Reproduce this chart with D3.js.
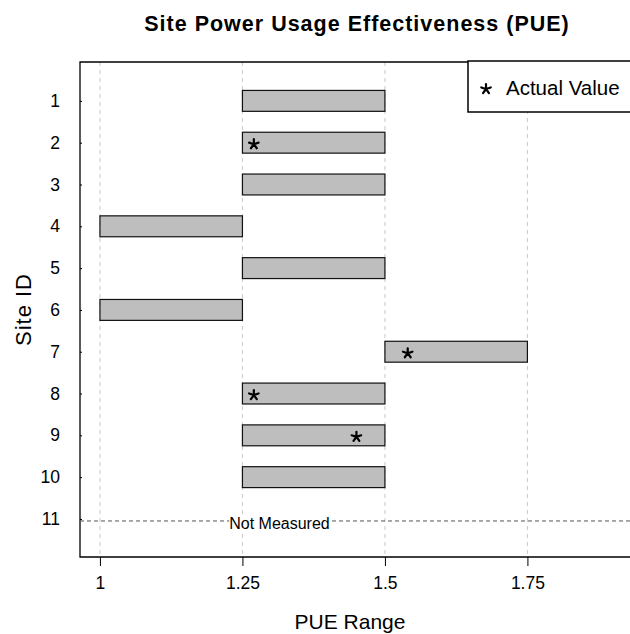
<!DOCTYPE html>
<html>
<head>
<meta charset="utf-8">
<script src="https://cdn.jsdelivr.net/npm/d3@7"></script>
<style>
  body { margin: 0; background: #fff; }
  svg { font-family: "Liberation Sans", Arial, Helvetica, sans-serif; }
</style>
</head>
<body>
<div id="chart"></div>
<script>
// data
let siteIds = [1, 2, 3, 4, 5, 6, 7, 8, 9, 10, 11];
let rangeLow  = [1.25, 1.25, 1.25, 1.0, 1.25, 1.0, 1.5, 1.25, 1.25, 1.25, null];
let rangeHigh = [1.5, 1.5, 1.5, 1.25, 1.5, 1.25, 1.75, 1.5, 1.5, 1.5, null];
let actualValue = [null, 1.27, null, null, null, null, 1.54, 1.27, 1.45, null, null];
let xTicks = [1, 1.25, 1.5, 1.75];
let notMeasuredSite = 11;

let svgWidth = 630;
let svgHeight = 634;
let plot = { left: 80, top: 62, right: 700, bottom: 557 };

let svg = d3.select('#chart')
  .append('svg')
  .attr('width', svgWidth)
  .attr('height', svgHeight);

// scales (the plot runs off the right edge of the picture)
let x = d3.scaleLinear()
  .domain([0.965, 1.93])
  .range([plot.left, 630]);
let y = d3.scaleLinear()
  .domain([0.07, 11.91])
  .range([plot.top, plot.bottom]);

let band = y(1.25) - y(1);

// dashed grid
svg.append('g')
  .selectAll('line')
  .data(xTicks)
  .enter()
  .append('line')
  .attr('x1', d => x(d)).attr('x2', d => x(d))
  .attr('y1', plot.top).attr('y2', plot.bottom)
  .attr('stroke', '#c8c8c8')
  .attr('stroke-dasharray', '4,4');

// axes
let bottomAxis = d3.axisBottom(x)
  .tickValues(xTicks)
  .tickFormat(d => d3.format('')(d))
  .tickSize(9)
  .tickPadding(11);
let gx = svg.append('g')
  .attr('transform', `translate(0,${plot.bottom})`)
  .call(bottomAxis);

let leftAxis = d3.axisLeft(y)
  .tickValues(siteIds)
  .tickSize(-2)
  .tickPadding(20);
let gy = svg.append('g')
  .attr('transform', `translate(${plot.left},0)`)
  .call(leftAxis);

[gx, gy].forEach(g => {
  g.select('.domain').remove();
  g.selectAll('text').attr('font-size', 17.5).attr('fill', '#000').attr('font-family', null);
  g.selectAll('line').attr('stroke', '#000');
});

// plot frame (open on the right, cropped)
svg.append('path')
  .attr('d', `M${plot.right},${plot.top}H${plot.left}V${plot.bottom}H${plot.right}`)
  .attr('fill', 'none')
  .attr('stroke', '#000')
  .attr('stroke-width', 1.3);

// range bars
let rows = siteIds.map((s, i) => ({ site: s, lo: rangeLow[i], hi: rangeHigh[i], val: actualValue[i] }));

svg.append('g')
  .selectAll('rect')
  .data(rows.filter(d => d.lo !== null))
  .enter()
  .append('rect')
  .attr('x', d => x(d.lo))
  .attr('y', d => y(d.site) - band)
  .attr('width', d => x(d.hi) - x(d.lo))
  .attr('height', 2 * band)
  .attr('fill', '#bebebe')
  .attr('stroke', '#111')
  .attr('stroke-width', 1.2);

// five-armed asterisk
function starPath(r) {
  let p = '';
  for (let k = 0; k < 5; k++) {
    let a = -Math.PI / 2 + k * 2 * Math.PI / 5;
    p += `M0,0L${r * Math.cos(a)},${r * Math.sin(a)}`;
  }
  return p;
}

svg.append('g')
  .selectAll('path')
  .data(rows.filter(d => d.val !== null))
  .enter()
  .append('path')
  .attr('transform', d => `translate(${x(d.val)},${y(d.site) + 1.5})`)
  .attr('d', starPath(5))
  .attr('stroke', '#000')
  .attr('stroke-width', 2.2)
  .attr('stroke-linecap', 'round');

// not measured line
let yNm = y(notMeasuredSite) + 2;
svg.append('line')
  .attr('x1', plot.left).attr('x2', plot.right)
  .attr('y1', yNm).attr('y2', yNm)
  .attr('stroke', '#555')
  .attr('stroke-dasharray', '4,3');

let nmGroup = svg.append('g');
let nmBg = nmGroup.append('rect').attr('fill', '#fff');
let nmText = nmGroup.append('text')
  .attr('x', x(1.315))
  .attr('y', yNm + 8)
  .attr('text-anchor', 'middle')
  .attr('font-size', 16)
  .text('Not Measured');
let bb = nmText.node().getBBox();
nmBg.attr('x', bb.x).attr('y', bb.y + 3)
  .attr('width', bb.width).attr('height', bb.height - 5);

// legend
let legend = svg.append('g');
legend.append('rect')
  .attr('x', 468).attr('y', 61)
  .attr('width', 200).attr('height', 51)
  .attr('fill', '#fff')
  .attr('stroke', '#000')
  .attr('stroke-width', 1.5);
legend.append('path')
  .attr('transform', 'translate(486,89)')
  .attr('d', starPath(5))
  .attr('stroke', '#000')
  .attr('stroke-width', 2.2)
  .attr('stroke-linecap', 'round');
legend.append('text')
  .attr('x', 506)
  .attr('y', 95)
  .attr('font-size', 20.5)
  .text('Actual Value');

// titles
svg.append('text')
  .attr('x', 357)
  .attr('y', 31)
  .attr('text-anchor', 'middle')
  .attr('font-size', 21.5)
  .attr('font-weight', 'bold')
  .attr('letter-spacing', 1)
  .text('Site Power Usage Effectiveness (PUE)');

svg.append('text')
  .attr('x', 350)
  .attr('y', 629)
  .attr('text-anchor', 'middle')
  .attr('font-size', 21)
  .text('PUE Range');

svg.append('text')
  .attr('transform', `translate(31,${(plot.top + plot.bottom) / 2}) rotate(-90)`)
  .attr('text-anchor', 'middle')
  .attr('font-size', 22)
  .attr('letter-spacing', 1)
  .text('Site ID');
</script>
</body>
</html>
